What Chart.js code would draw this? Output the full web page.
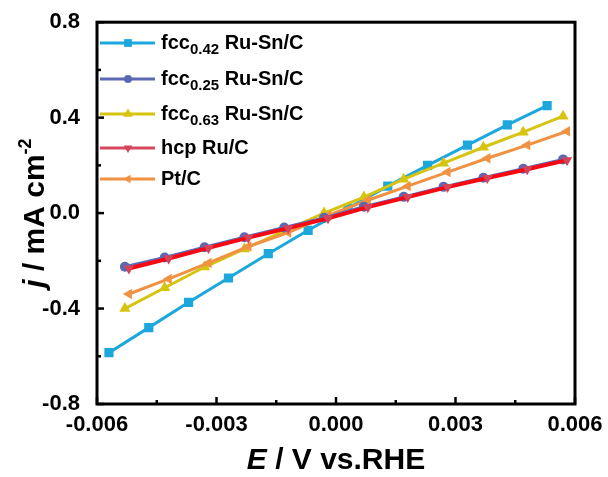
<!DOCTYPE html>
<html>
<head>
<meta charset="utf-8">
<script src="https://cdn.jsdelivr.net/npm/chart.js@4/dist/chart.umd.min.js"></script>
<style>
  html, body { margin: 0; padding: 0; background: #fff; }
  #wrap { width: 608px; height: 477px; }
</style>
</head>
<body>
<div id="wrap"><canvas id="ivChart" width="608" height="477"></canvas></div>
<script>
// potentials (V vs. RHE) for each sample
const xFcc042 = [-0.0057, -0.0047, -0.0037, -0.0027, -0.0017, -0.0007, 0.0003, 0.0013, 0.0023, 0.0033, 0.0043, 0.0053];
const xFcc025 = [-0.0053, -0.0043, -0.0033, -0.0023, -0.0013, -0.0003, 0.0007, 0.0017, 0.0027, 0.0037, 0.0047, 0.0057];
const xFcc063 = [-0.0053, -0.0043, -0.0033, -0.0023, -0.0013, -0.0003, 0.0007, 0.0017, 0.0027, 0.0037, 0.0047, 0.0057];
const xHcp    = [-0.0052, -0.0042, -0.0032, -0.0022, -0.0012, -0.0002, 0.0008, 0.0018, 0.0028, 0.0038, 0.0048, 0.0058];
const xPt     = [-0.0052, -0.0042, -0.0032, -0.0022, -0.0012, -0.0002, 0.0008, 0.0018, 0.0028, 0.0038, 0.0048, 0.0058];

// current density (mA cm-2)
const jFcc042 = [-0.585, -0.48, -0.374, -0.272, -0.17, -0.072, 0.02, 0.113, 0.2, 0.285, 0.37, 0.45];
const jFcc025 = [-0.225, -0.186, -0.143, -0.101, -0.06, -0.02, 0.027, 0.068, 0.11, 0.148, 0.186, 0.225];
const jFcc063 = [-0.4, -0.313, -0.226, -0.15, -0.075, 0.0, 0.067, 0.142, 0.209, 0.276, 0.339, 0.406];
const jHcp    = [-0.232, -0.19, -0.146, -0.103, -0.063, -0.022, 0.025, 0.067, 0.109, 0.147, 0.184, 0.222];
const jPt     = [-0.339, -0.276, -0.209, -0.14, -0.082, -0.01, 0.054, 0.113, 0.172, 0.23, 0.285, 0.343];

const seriesNames = [
  ['fcc', '0.42', ' Ru-Sn/C'],
  ['fcc', '0.25', ' Ru-Sn/C'],
  ['fcc', '0.63', ' Ru-Sn/C'],
  ['hcp Ru/C', '', ''],
  ['Pt/C', '', '']
];

const xTickLabels = [-0.006, -0.003, 0.0, 0.003, 0.006];
const yTickLabels = [-0.8, -0.4, 0.0, 0.4, 0.8];

function pts(xs, ys) {
  return xs.map((x, i) => ({ x: x, y: ys[i] }));
}

function onStep(v, step) {
  return Math.abs(v / step - Math.round(v / step)) < 1e-6;
}

const font = '"Liberation Sans", Arial, sans-serif';

const datasets = [
  { label: 'fcc0.42', data: pts(xFcc042, jFcc042), borderColor: 'rgb(28,168,220)', backgroundColor: 'rgb(28,168,220)',
    pointStyle: 'rect', pointRadius: 6.5, order: 4 },
  { label: 'fcc0.25', data: pts(xFcc025, jFcc025), borderColor: 'rgb(92,104,178)', backgroundColor: 'rgb(92,104,178)',
    pointStyle: 'circle', pointRadius: 5, order: 2 },
  { label: 'fcc0.63', data: pts(xFcc063, jFcc063), borderColor: 'rgb(214,196,14)', backgroundColor: 'rgb(214,196,14)',
    pointStyle: 'triangle', pointRadius: 6.5, order: 3 },
  { label: 'hcp', data: pts(xHcp, jHcp), borderColor: 'rgb(245,10,20)', backgroundColor: 'rgb(214,66,88)',
    legendColor: 'rgb(216,72,92)', pointStyle: 'triangle', rotation: 180, pointRadius: 6, borderWidth: 4, order: 1 },
  { label: 'Pt', data: pts(xPt, jPt), borderColor: 'rgb(240,146,66)', backgroundColor: 'rgb(240,146,66)',
    pointStyle: 'triangle', rotation: 270, pointRadius: 6, order: 2.5 }
];
datasets.forEach(d => {
  d.borderWidth = d.borderWidth || 3;
  d.pointBorderWidth = 0;
  d.pointBackgroundColor = d.backgroundColor;
  d.pointRotation = d.rotation || 0;
  d.tension = 0;
  d.fill = false;
});

const framePlugin = {
  id: 'frame',
  afterDraw(chart) {
    const ctx = chart.ctx;
    const a = chart.chartArea;
    const xs = chart.scales.x, ys = chart.scales.y;
    ctx.save();
    ctx.strokeStyle = '#000';
    ctx.lineWidth = 3;
    ctx.strokeRect(a.left, a.top, a.right - a.left, a.bottom - a.top);

    // inward ticks
    ctx.lineWidth = 2.5;
    for (let v = -0.006; v <= 0.00601; v += 0.0015) {
      const px = xs.getPixelForValue(v);
      const len = onStep(v, 0.003) ? 7 : 4;
      ctx.beginPath();
      ctx.moveTo(px, a.bottom);
      ctx.lineTo(px, a.bottom - len);
      ctx.stroke();
    }
    for (let v = -0.8; v <= 0.801; v += 0.2) {
      const py = ys.getPixelForValue(v);
      const len = onStep(v, 0.4) ? 7 : 4;
      ctx.beginPath();
      ctx.moveTo(a.left, py);
      ctx.lineTo(a.left + len, py);
      ctx.stroke();
    }

    // legend
    const rows = [43, 79, 114, 148, 179];
    const drawPoint = Chart.helpers && Chart.helpers.drawPoint;
    datasets.forEach((d, i) => {
      const y = rows[i];
      ctx.strokeStyle = d.legendColor || d.borderColor;
      ctx.lineWidth = 3;
      ctx.beginPath();
      ctx.moveTo(100, y);
      ctx.lineTo(155, y);
      ctx.stroke();
      if (drawPoint) {
        ctx.fillStyle = d.backgroundColor;
        ctx.strokeStyle = d.backgroundColor;
        drawPoint(ctx, { pointStyle: d.pointStyle, radius: d.pointRadius - 1, rotation: d.rotation || 0, borderWidth: 0 }, 128, y);
      }
      const [a1, sub, a2] = seriesNames[i];
      ctx.fillStyle = '#000';
      ctx.textBaseline = 'middle';
      ctx.textAlign = 'left';
      let tx = 161;
      ctx.font = 'bold 20px ' + font;
      ctx.fillText(a1, tx, y);
      tx += ctx.measureText(a1).width;
      if (sub) {
        ctx.font = 'bold 15px ' + font;
        ctx.fillText(sub, tx, y + 7);
        tx += ctx.measureText(sub).width;
        ctx.font = 'bold 20px ' + font;
        ctx.fillText(a2, tx, y);
      }
    });

    // axis titles
    ctx.fillStyle = '#000';
    ctx.textBaseline = 'alphabetic';
    ctx.textAlign = 'left';
    const xParts = [['italic bold 30px ', 'E'], ['bold 30px ', ' / V vs.RHE']];
    let w = 0;
    xParts.forEach(p => { ctx.font = p[0] + font; w += ctx.measureText(p[1]).width; });
    let cx = (a.left + a.right) / 2 - w / 2;
    xParts.forEach(p => { ctx.font = p[0] + font; ctx.fillText(p[1], cx, 469); cx += ctx.measureText(p[1]).width; });

    ctx.translate(44, (a.top + a.bottom) / 2);
    ctx.rotate(-Math.PI / 2);
    const yParts = [['italic bold 30px ', 'j', 0], ['bold 30px ', ' / mA cm', 0], ['bold 18px ', '-2', -13]];
    w = 0;
    yParts.forEach(p => { ctx.font = p[0] + font; w += ctx.measureText(p[1]).width; });
    cx = -w / 2;
    yParts.forEach(p => { ctx.font = p[0] + font; ctx.fillText(p[1], cx, p[2]); cx += ctx.measureText(p[1]).width; });
    ctx.restore();
  }
};

new Chart(document.getElementById('ivChart'), {
  type: 'line',
  data: { datasets: datasets },
  options: {
    responsive: false,
    animation: false,
    layout: { padding: { left: 0, top: 22, right: 33, bottom: 0 } },
    plugins: { legend: { display: false }, tooltip: { enabled: false } },
    scales: {
      x: {
        type: 'linear',
        min: -0.006, max: 0.006,
        grid: { display: false },
        border: { display: false },
        afterFit: s => { s.height = 73; },
        afterBuildTicks: s => { s.ticks = xTickLabels.map(v => ({ value: v })); },
        ticks: {
          padding: 0,
          color: '#000',
          font: { family: font, size: 22, weight: 'bold' },
          callback: v => (Math.abs(v) < 1e-9 ? 0 : v).toFixed(3)
        }
      },
      y: {
        type: 'linear',
        min: -0.8, max: 0.8,
        grid: { display: false },
        border: { display: false },
        afterFit: s => { s.width = 97; },
        afterBuildTicks: s => { s.ticks = yTickLabels.map(v => ({ value: v })); },
        ticks: {
          padding: 9,
          color: '#000',
          font: { family: font, size: 22, weight: 'bold' },
          callback: v => (Math.abs(v) < 1e-9 ? 0 : v).toFixed(1)
        }
      }
    }
  },
  plugins: [framePlugin]
});
</script>
</body>
</html>
